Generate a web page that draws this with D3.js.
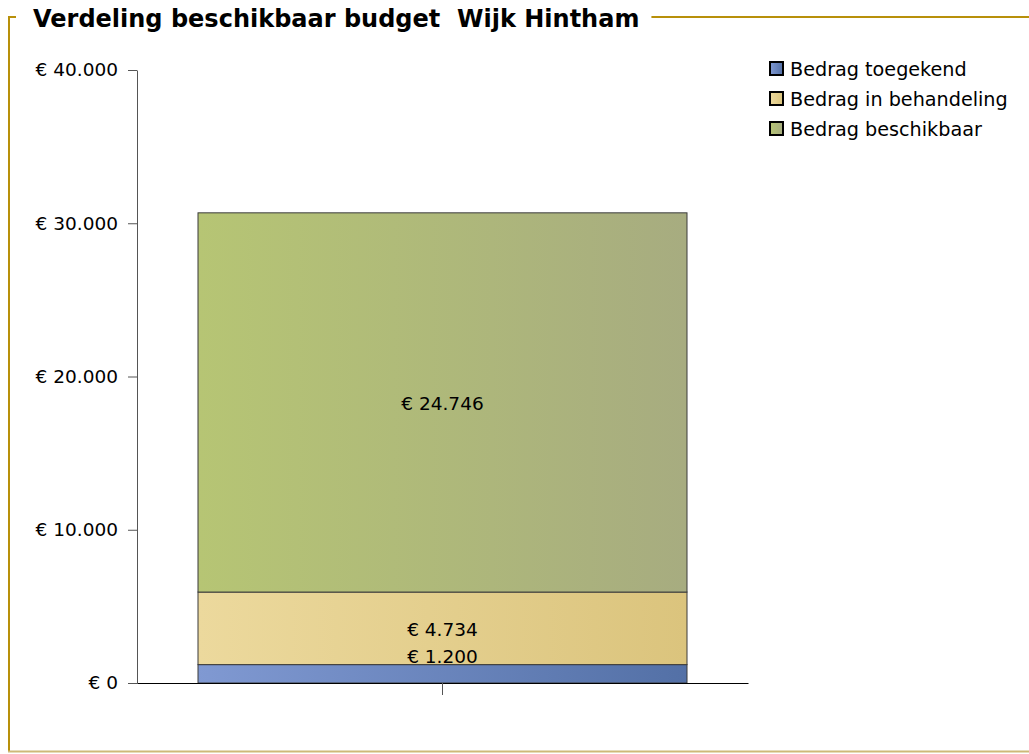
<!DOCTYPE html>
<html><head><meta charset="utf-8">
<script src="https://cdn.jsdelivr.net/npm/d3@7/dist/d3.min.js"></script>
<style>body{margin:0;background:#fff}svg{display:block}</style>
</head><body>
<svg id="c" width="1029" height="754"></svg>
<script>
const title = "Verdeling beschikbaar budget  Wijk Hintham";
const categories = ["Wijk Hintham"];
const seriesNames = ["Bedrag toegekend", "Bedrag in behandeling", "Bedrag beschikbaar"];
const toegekend = [1200];
const inBehandeling = [4734];
const beschikbaar = [24746];
const yTicks = [0, 10000, 20000, 30000, 40000];
const colorsLeft = ["#8099d2", "#ecd99d", "#b6c574"];
const colorsRight = ["#5370a6", "#dbc47d", "#a7ac80"];

const svg = d3.select("#c");
const fmt = v => "€ " + d3.format(",")(v).replace(/,/g, ".");
const font = "Tahoma, 'DejaVu Sans', sans-serif";

// frame
const gold = "#b8900a";
svg.append("line").attr("x1", 9).attr("x2", 9).attr("y1", 17).attr("y2", 752).attr("stroke", gold).attr("stroke-width", 2);
svg.append("line").attr("x1", 8).attr("x2", 16).attr("y1", 17).attr("y2", 17).attr("stroke", gold).attr("stroke-width", 2);
svg.append("line").attr("x1", 8).attr("x2", 1029).attr("y1", 751.5).attr("y2", 751.5).attr("stroke", "#cdb978").attr("stroke-width", 2);
const t = svg.append("text").attr("x", 33).attr("y", 27).attr("font-family", font).attr("font-weight", "bold")
  .attr("font-size", 24).attr("fill", "#000").style("white-space", "pre").text(title);
const tw = t.node().getComputedTextLength();
svg.append("line").attr("x1", 33 + tw + 12).attr("x2", 1029).attr("y1", 17).attr("y2", 17).attr("stroke", gold).attr("stroke-width", 2);

const y = d3.scaleLinear().domain([0, 40000]).range([683, 70]);
const x = d3.scaleBand().domain(categories).range([137, 748]).paddingInner(0.2).paddingOuter(0.1);

// gradients
const defs = svg.append("defs");
seriesNames.forEach((s, i) => {
  const g = defs.append("linearGradient").attr("id", "g" + i).attr("x1", "0%").attr("x2", "100%");
  g.append("stop").attr("offset", "0%").attr("stop-color", colorsLeft[i]);
  g.append("stop").attr("offset", "100%").attr("stop-color", colorsRight[i]);
});

const data = categories.map((c, i) => ({cat: c, s0: toegekend[i], s1: inBehandeling[i], s2: beschikbaar[i]}));
const stack = d3.stack().keys(["s0", "s1", "s2"])(data);

const bw = 489;
const cx = x(categories[0]) + x.bandwidth() / 2;
stack.forEach((layer, i) => {
  layer.forEach(d => {
    svg.append("rect").attr("x", cx - bw / 2).attr("width", bw)
      .attr("y", y(d[1])).attr("height", y(d[0]) - y(d[1]))
      .attr("fill", `url(#g${i})`).attr("stroke", "#3a3a3a").attr("stroke-width", 1);
  });
});
// labels
stack.forEach((layer, i) => {
  layer.forEach(d => {
    const v = d[1] - d[0];
    const h = y(d[0]) - y(d[1]);
    let ly = (y(d[0]) + y(d[1])) / 2 + 1;
    if (h < 24) ly = y(d[1]) - 8;
    svg.append("text").attr("x", cx).attr("y", ly).attr("dy", "0.35em").attr("text-anchor", "middle")
      .attr("font-family", font).attr("font-size", 18.5).attr("fill", "#000").text(fmt(v));
  });
});

// y axis
const ya = svg.append("g").attr("transform", "translate(137,0)")
  .call(d3.axisLeft(y).tickValues(yTicks).tickFormat(fmt).tickSize(9).tickSizeOuter(0).tickPadding(10));
ya.selectAll("text").attr("font-family", font).attr("font-size", 18.5).attr("fill", "#000");
ya.selectAll("line").attr("stroke", "#555");
ya.select(".domain").attr("stroke", "#555");

// x axis
const xa = svg.append("g").attr("transform", "translate(0,683)")
  .call(d3.axisBottom(x).tickSize(12).tickSizeOuter(0).tickFormat(""));
xa.select(".domain").attr("stroke", "#000");
xa.selectAll("line").attr("stroke", "#555");

// legend
const lg = svg.append("g").attr("transform", "translate(770,62)");
seriesNames.forEach((s, i) => {
  const r = lg.append("g").attr("transform", `translate(0,${i * 30})`);
  r.append("rect").attr("x", 0).attr("y", 0).attr("width", 13).attr("height", 13)
    .attr("fill", `url(#g${i})`).attr("stroke", "#000").attr("stroke-width", 2);
  r.append("text").attr("x", 20).attr("y", 7).attr("dy", "0.35em").attr("font-family", font)
    .attr("font-size", 19.2).attr("fill", "#000").text(s);
});
</script>
</body></html>
